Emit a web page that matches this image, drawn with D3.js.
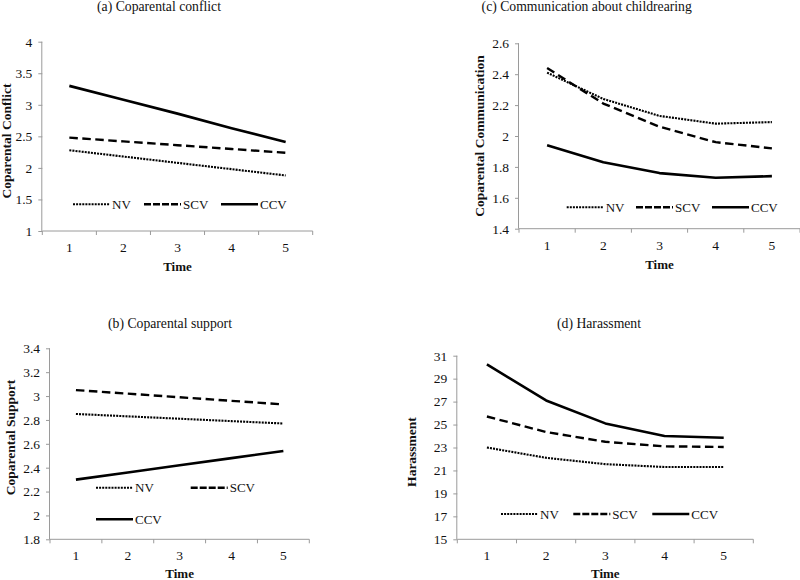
<!DOCTYPE html>
<html>
<head>
<meta charset="utf-8">
<script src="https://cdn.jsdelivr.net/npm/d3@7"></script>
<style>
  html, body { margin: 0; padding: 0; background: #fff; }
  svg { display: block; }
  svg text { font-family: "Liberation Serif", "Times New Roman", Times, "DejaVu Serif", serif !important; fill: #111; }
</style>
</head>
<body>
<svg id="chart" width="800" height="580"></svg>
<script>
// ---------------- DATA ----------------
const times = [1, 2, 3, 4, 5];
const groups = ["NV", "SCV", "CCV"];

// (a) Coparental conflict
const conflictNV  = [2.28, 2.18, 2.08, 1.98, 1.88];
const conflictSCV = [2.48, 2.42, 2.36, 2.30, 2.24];
const conflictCCV = [3.30, 3.08, 2.86, 2.63, 2.41];
const conflictTicks = [1, 1.5, 2, 2.5, 3, 3.5, 4];
const conflictTickLabels = ["1", "1.5", "2", "2.5", "3", "3.5", "4"];

// (b) Coparental support
const supportNV  = [2.85, 2.83, 2.81, 2.79, 2.77];
const supportSCV = [3.05, 3.02, 2.99, 2.96, 2.93];
const supportCCV = [2.30, 2.36, 2.42, 2.48, 2.54];
const supportTicks = [1.8, 2, 2.2, 2.4, 2.6, 2.8, 3, 3.2, 3.4];
const supportTickLabels = ["1.8", "2", "2.2", "2.4", "2.6", "2.8", "3", "3.2", "3.4"];

// (c) Communication about childrearing
const commNV  = [2.41, 2.24, 2.13, 2.08, 2.09];
const commSCV = [2.44, 2.21, 2.06, 1.96, 1.92];
const commCCV = [1.94, 1.83, 1.76, 1.73, 1.74];
const commTicks = [1.4, 1.6, 1.8, 2, 2.2, 2.4, 2.6];
const commTickLabels = ["1.4", "1.6", "1.8", "2", "2.2", "2.4", "2.6"];

// (d) Harassment
const harassNV  = [23.0, 22.1, 21.55, 21.3, 21.3];
const harassSCV = [25.7, 24.35, 23.5, 23.1, 23.05];
const harassCCV = [30.25, 27.1, 25.1, 24.0, 23.85];
const harassTicks = [15, 17, 19, 21, 23, 25, 27, 29, 31];
const harassTickLabels = ["15", "17", "19", "21", "23", "25", "27", "29", "31"];

const titles = ["(a) Coparental conflict", "(b) Coparental support",
                "(c) Communication about childrearing", "(d) Harassment"];
const yLabels = ["Coparental Conflict", "Coparental Support",
                 "Coparental Communication", "Harassment"];
const xLabel = "Time";

// ---------------- LAYOUT ----------------
const FONT = "Liberation Serif, Times New Roman, DejaVu Serif, serif";
const styles = {
  NV:  { width: 2.1, dash: "2,1.1", legDash: "2,1.1" },
  SCV: { width: 2.4, dash: "8.5,4.5", legDash: "7,2" },
  CCV: { width: 2.6, dash: null, legDash: null }
};

const panels = [
  { title: titles[0], ylab: yLabels[0], series: [conflictNV, conflictSCV, conflictCCV],
    ticks: conflictTicks, tickLabels: conflictTickLabels,
    x0: 42.3, x1: 312.7, yTop: 41.7, yBot: 231,
    titleX: 159, titleY: 11, timeY: 271, ylabX: 6, ylabY: 141,
    legend: [{ g: "NV", x: 73, y: 204.3 }, { g: "SCV", x: 144, y: 204.3 }, { g: "CCV", x: 221, y: 204.3 }] },
  { title: titles[2], ylab: yLabels[2], series: [commNV, commSCV, commCCV],
    ticks: commTicks, tickLabels: commTickLabels,
    x0: 519, x1: 800, yTop: 43.3, yBot: 228.7,
    titleX: 586.7, titleY: 11, timeY: 268.5, ylabX: 479, ylabY: 136,
    legend: [{ g: "NV", x: 566.7, y: 207.3 }, { g: "SCV", x: 636, y: 207.3 }, { g: "CCV", x: 712, y: 207.3 }] },
  { title: titles[1], ylab: yLabels[1], series: [supportNV, supportSCV, supportCCV],
    ticks: supportTicks, tickLabels: supportTickLabels,
    x0: 50, x1: 309.3, yTop: 348.3, yBot: 539.3,
    titleX: 170, titleY: 328, timeY: 578, ylabX: 10, ylabY: 437.5,
    legend: [{ g: "NV", x: 96, y: 487.7 }, { g: "SCV", x: 190.7, y: 487.7 }, { g: "CCV", x: 96, y: 519.3 }] },
  { title: titles[3], ylab: yLabels[3], series: [harassNV, harassSCV, harassCCV],
    ticks: harassTicks, tickLabels: harassTickLabels,
    x0: 457.3, x1: 753.3, yTop: 355.7, yBot: 539.3,
    titleX: 599, titleY: 328, timeY: 578, ylabX: 411, ylabY: 452,
    legend: [{ g: "NV", x: 501, y: 514 }, { g: "SCV", x: 573.3, y: 514 }, { g: "CCV", x: 652.3, y: 514 }] }
];

const svg = d3.select("#chart").attr("font-family", FONT);
const axisColor = "#9a9a9a";
const legendLen = 37;

panels.forEach(p => {
  const g = svg.append("g");
  const x = d3.scalePoint().domain(times).range([p.x0, p.x1]).padding(0.5);
  const xb = d3.scaleBand().domain(times).range([p.x0, p.x1]);
  const y = d3.scaleLinear().domain([p.ticks[0], p.ticks[p.ticks.length - 1]]).range([p.yBot, p.yTop]);

  // Y axis
  const yAxis = d3.axisLeft(y).tickValues(p.ticks).tickSize(4).tickPadding(6)
    .tickFormat((d, i) => p.tickLabels[i]);
  const ya = g.append("g").attr("transform", `translate(${p.x0},0)`).call(yAxis)
    .attr("font-family", FONT).attr("font-size", 13.5);
  ya.select(".domain").attr("stroke", axisColor).attr("d", `M-0.5,${p.yTop}V${p.yBot}`);
  ya.selectAll(".tick line").attr("stroke", axisColor);
  ya.selectAll(".tick text").attr("fill", "#222");

  // X axis: line, boundary ticks, centered labels
  g.append("line").attr("x1", p.x0).attr("x2", p.x1).attr("y1", p.yBot).attr("y2", p.yBot)
    .attr("stroke", axisColor).attr("stroke-width", 1);
  const bounds = times.map(t => xb(t)).concat([p.x1]);
  g.selectAll(".xt").data(bounds).enter().append("line")
    .attr("x1", d => d).attr("x2", d => d).attr("y1", p.yBot).attr("y2", p.yBot + 4)
    .attr("stroke", axisColor);
  g.selectAll(".xl").data(times).enter().append("text")
    .attr("x", d => x(d)).attr("y", p.yBot + 21).attr("text-anchor", "middle")
    .attr("font-size", 13.5).attr("fill", "#222").text(d => d);

  // Series lines
  const line = d3.line().x((d, i) => x(times[i])).y(d => y(d));
  p.series.forEach((vals, si) => {
    const st = styles[groups[si]];
    g.append("path").datum(vals).attr("d", line)
      .attr("fill", "none").attr("stroke", "#000")
      .attr("stroke-width", st.width)
      .attr("stroke-dasharray", st.dash)
      .attr("stroke-linejoin", "round");
  });

  // Legend
  p.legend.forEach(l => {
    const st = styles[l.g];
    g.append("line").attr("x1", l.x).attr("x2", l.x + legendLen).attr("y1", l.y).attr("y2", l.y)
      .attr("stroke", "#000").attr("stroke-width", st.width).attr("stroke-dasharray", st.legDash);
    g.append("text").attr("x", l.x + legendLen + 2).attr("y", l.y + 4.5)
      .attr("font-size", 13).text(l.g);
  });

  // Title
  g.append("text").attr("x", p.titleX).attr("y", p.titleY).attr("text-anchor", "middle")
    .attr("font-size", 13.7).text(p.title);

  // X label
  g.append("text").attr("x", (p.x0 + p.x1) / 2).attr("y", p.timeY).attr("text-anchor", "middle")
    .attr("font-size", 13).attr("font-weight", "bold").text(xLabel);

  // Y label
  g.append("text").attr("transform", `translate(${p.ylabX + 4.7},${p.ylabY}) rotate(-90)`)
    .attr("text-anchor", "middle").attr("font-size", 13.5).attr("font-weight", "bold")
    .text(p.ylab);
});
</script>
</body>
</html>
